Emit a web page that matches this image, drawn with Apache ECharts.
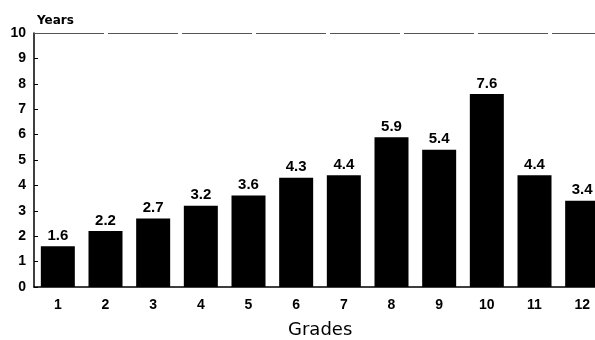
<!DOCTYPE html>
<html>
<head>
<meta charset="utf-8">
<style>
  html, body { margin: 0; padding: 0; background: #fff; }
  #chart { width: 595px; height: 340px; }
</style>
<script src="https://cdn.jsdelivr.net/npm/echarts@6/dist/echarts.min.js"></script>
</head>
<body>
<div id="chart"></div>
<script>
// Years spent per grade
const grades = ['1', '2', '3', '4', '5', '6', '7', '8', '9', '10', '11', '12'];
const years = [1.6, 2.2, 2.7, 3.2, 3.6, 4.3, 4.4, 5.9, 5.4, 7.6, 4.4, 3.4];
const yTicks = [0, 1, 2, 3, 4, 5, 6, 7, 8, 9, 10];

const font = '"Liberation Sans", Arial, sans-serif';
const wide = '"DejaVu Sans", sans-serif';
const chart = echarts.init(document.getElementById('chart'), null, { renderer: 'canvas' });

chart.setOption({
  animation: false,
  backgroundColor: '#fff',
  // plot area runs a little past the right edge, so the last bar is clipped
  grid: {
    left: 34, top: 33, width: 572, height: 254,
    containLabel: false, outerBoundsMode: 'none'
  },
  title: [
    {
      text: 'Years', left: 32, top: 10,
      textStyle: { fontFamily: wide, fontSize: 12, fontWeight: 'bold', color: '#000' }
    },
    {
      text: 'Grades', left: 283, top: 316,
      textStyle: { fontFamily: wide, fontSize: 18, fontWeight: 'normal', color: '#000' }
    }
  ],
  xAxis: {
    type: 'category',
    data: grades,
    axisLine: { lineStyle: { color: '#000', width: 1.5 } },
    axisTick: { show: false },
    axisLabel: {
      margin: 11, fontFamily: font, fontSize: 14, fontWeight: 'bold', color: '#000'
    }
  },
  yAxis: {
    type: 'value',
    min: 0, max: 10, interval: 1,
    axisLine: { show: true, lineStyle: { color: '#000', width: 1.5 } },
    axisTick: { show: true, inside: true, length: 4, lineStyle: { color: '#000' } },
    splitLine: { show: false },
    axisLabel: {
      margin: 8, fontFamily: font, fontSize: 14, fontWeight: 'bold', color: '#000',
      formatter: v => (yTicks.includes(v) ? String(v) : '')
    }
  },
  series: [{
    type: 'bar',
    data: years,
    barWidth: 34,
    itemStyle: { color: '#000' },
    label: {
      show: true, position: 'top', distance: 3,
      fontFamily: font, fontSize: 15, fontWeight: 'bold', color: '#000',
      formatter: p => p.value.toFixed(1)
    },
    markLine: {
      silent: true,
      symbol: 'none',
      label: { show: false },
      lineStyle: { color: '#555', width: 1, type: [70, 4] },
      data: [{ yAxis: 10 }]
    }
  }]
});
</script>
</body>
</html>
